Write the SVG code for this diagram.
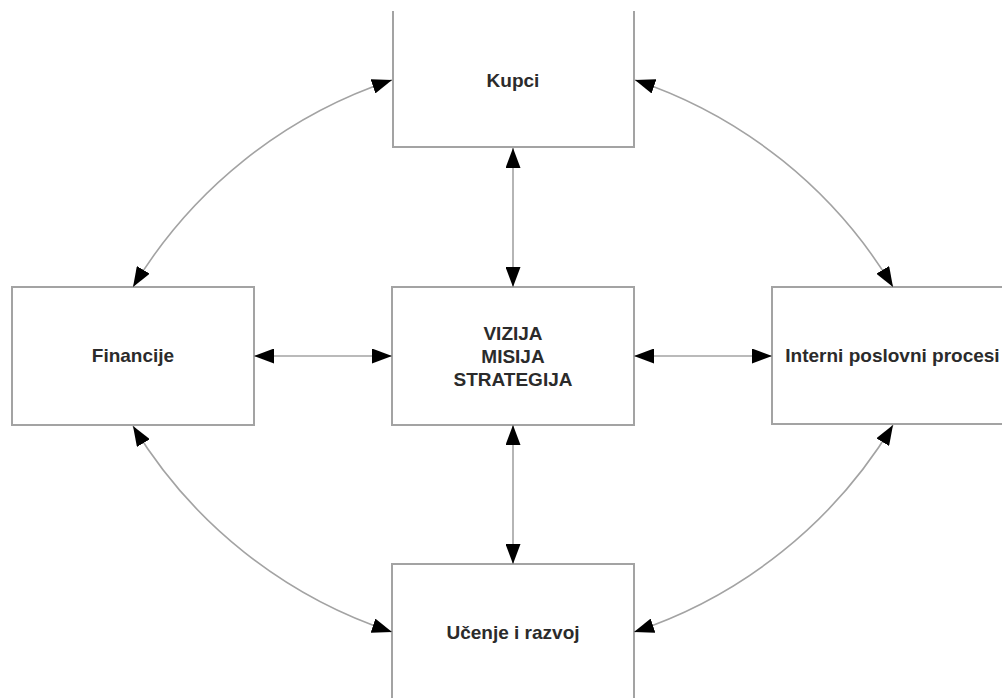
<svg xmlns="http://www.w3.org/2000/svg" width="1002" height="698" viewBox="0 0 1002 698">
<style>
.box{fill:#fff;stroke:#a3a3a3;stroke-width:2}
.lbl{font-family:"Liberation Sans",Arial,sans-serif;font-weight:bold;font-size:19px;fill:#2b2b2b;text-anchor:middle}
.con{fill:none;stroke:#a3a3a3;stroke-width:1.6;marker-start:url(#ah);marker-end:url(#ah)}
</style>
<defs>
<marker id="ah" markerUnits="userSpaceOnUse" markerWidth="20" markerHeight="15" refX="20" refY="7.5" orient="auto-start-reverse">
<path d="M0,0 L20,7.5 L0,15 z" fill="#000"/>
</marker>
</defs>
<rect width="1002" height="698" fill="#fff"/>
<g id="kupci">
<path class="box" d="M393,11 V147 H634 V11"/>
<text class="lbl" x="513" y="87">Kupci</text>
</g>
<g id="financije">
<rect class="box" x="12" y="287" width="242" height="138"/>
<text class="lbl" x="133" y="362">Financije</text>
</g>
<g id="vizija">
<rect class="box" x="392" y="287" width="242" height="138"/>
<text class="lbl" x="513" y="340">VIZIJA</text>
<text class="lbl" x="513" y="363">MISIJA</text>
<text class="lbl" x="513" y="386">STRATEGIJA</text>
</g>
<g id="interni">
<path class="box" d="M1003,287 H772 V424 H1003"/>
<text class="lbl" x="892.5" y="362">Interni poslovni procesi</text>
</g>
<g id="ucenje">
<path class="box" d="M392,699 V564 H634 V699"/>
<text class="lbl" x="513" y="639">Učenje i razvoj</text>
</g>
<g id="connectors">
<path class="con" d="M513,148 V287"/>
<path class="con" d="M513,425 V564"/>
<path class="con" d="M254,356 H392"/>
<path class="con" d="M634,356 H772"/>
<path class="con" d="M133,287 A478,478 0 0,1 392,80"/>
<path class="con" d="M635,80 A478,478 0 0,1 893,287"/>
<path class="con" d="M893,425 A478,478 0 0,1 634,632"/>
<path class="con" d="M392,632 A478,478 0 0,1 133,426"/>
</g>
</svg>
